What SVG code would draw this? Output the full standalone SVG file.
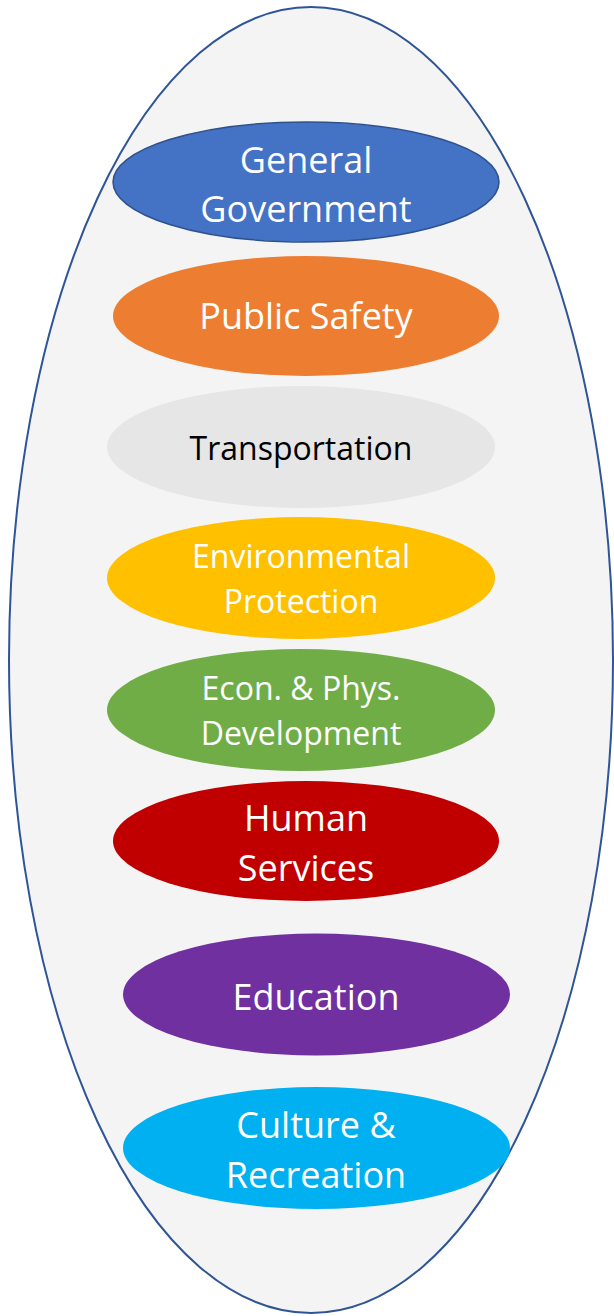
<svg xmlns="http://www.w3.org/2000/svg" width="614" height="1316" viewBox="0 0 614 1316">
<style>
text{font-family:"Open Sans","Noto Sans","Liberation Sans",sans-serif;text-anchor:middle;fill:#ffffff}
.big{font-size:36px}
.mid{font-size:32px}
.dark{fill:#000000}
</style>
<rect width="614" height="1316" fill="#ffffff"/>
<g id="container">
<ellipse cx="311" cy="660" rx="302" ry="653" fill="#f4f4f4" stroke="#2f5597" stroke-width="2"/>
</g>
<g id="connectors"></g>
<g id="general-government">
<ellipse cx="306" cy="182" rx="193" ry="60" fill="#4472c4" stroke="#2f528f" stroke-width="1.5"/>
<text class="big" x="306" y="173">General</text>
<text class="big" x="306" y="222">Government</text>
</g>
<g id="public-safety">
<ellipse cx="306" cy="316" rx="193" ry="60" fill="#ed7d31"/>
<text class="big" x="306" y="329">Public Safety</text>
</g>
<g id="transportation">
<ellipse cx="301" cy="447" rx="194" ry="61" fill="#e6e6e6"/>
<text class="mid dark" x="301" y="460">Transportation</text>
</g>
<g id="environmental-protection">
<ellipse cx="301" cy="578" rx="194" ry="61" fill="#ffc000"/>
<text class="mid" x="301" y="568">Environmental</text>
<text class="mid" x="301" y="613">Protection</text>
</g>
<g id="econ-phys-development">
<ellipse cx="301" cy="710" rx="194" ry="61" fill="#70ad47"/>
<text class="mid" x="301" y="700">Econ. &amp; Phys.</text>
<text class="mid" x="301" y="745">Development</text>
</g>
<g id="human-services">
<ellipse cx="306" cy="841" rx="193" ry="60" fill="#c00000"/>
<text class="big" x="306" y="831">Human</text>
<text class="big" x="306" y="881">Services</text>
</g>
<g id="education">
<ellipse cx="316.5" cy="994.5" rx="193.5" ry="61" fill="#7030a0"/>
<text class="big" x="316" y="1010">Education</text>
</g>
<g id="culture-recreation">
<ellipse cx="316.5" cy="1148" rx="193.5" ry="61" fill="#00b0f0"/>
<text class="big" x="316" y="1138">Culture &amp;</text>
<text class="big" x="316" y="1188">Recreation</text>
</g>
</svg>
